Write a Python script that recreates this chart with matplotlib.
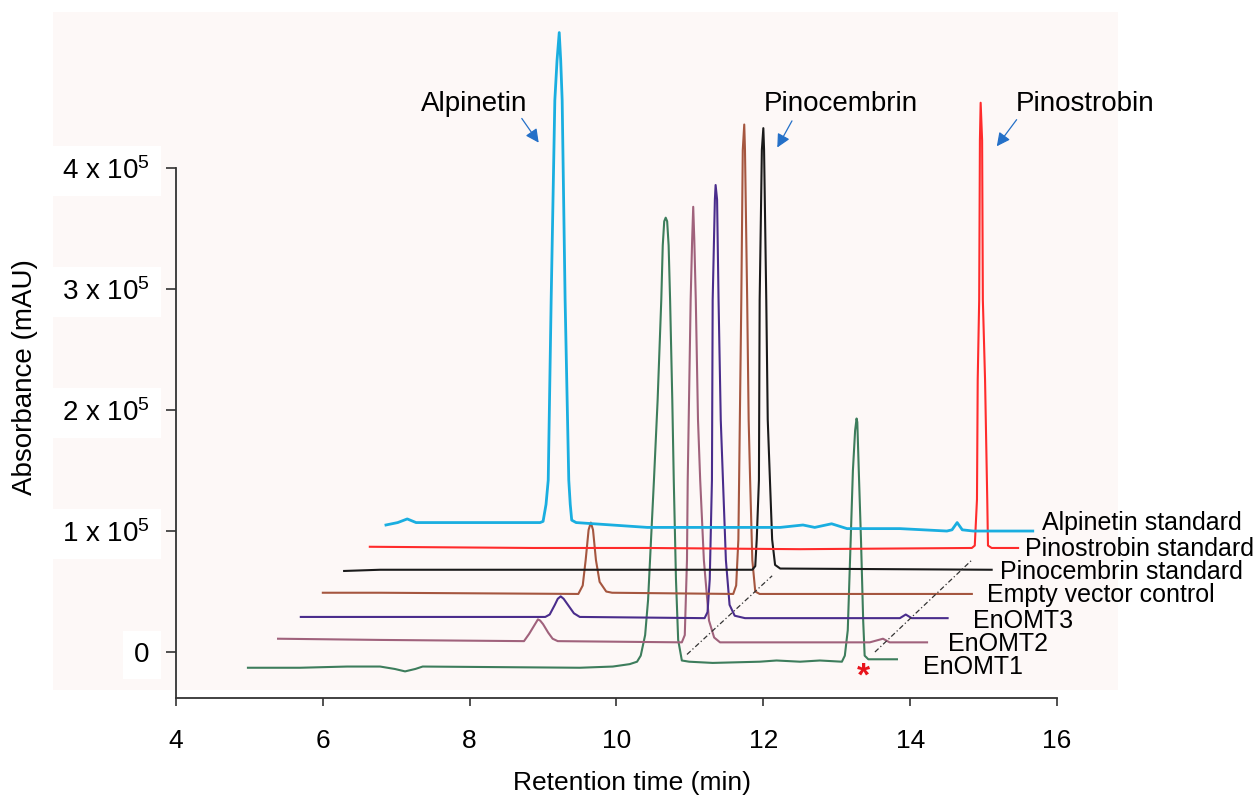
import matplotlib
matplotlib.use('Agg')
import matplotlib.pyplot as plt
from matplotlib.patches import Rectangle

plt.rcParams['font.family'] = ['Liberation Sans', 'DejaVu Sans']
plt.rcParams['mathtext.fontset'] = 'custom'
plt.rcParams['mathtext.rm'] = 'Liberation Sans'
plt.rcParams['mathtext.it'] = 'Liberation Sans'
plt.rcParams['mathtext.bf'] = 'Liberation Sans:bold'

# Chromatogram traces as drawn (stacked, offset), retention time (min) vs absorbance (x 10^5 mAU)
cyan_x = [6.86, 7.02, 7.15, 7.27, 7.60, 8.41, 8.96, 9.00, 9.04, 9.07, 9.11, 9.16, 9.19, 9.22, 9.24, 9.26, 9.30,
          9.35, 9.37, 9.39, 9.45, 10.42, 12.23, 12.54, 12.70, 12.93, 13.14, 13.86, 14.50, 14.57, 14.64, 14.71,
          14.86, 15.67]
cyan_y = [1.05, 1.07, 1.10, 1.07, 1.07, 1.07, 1.07, 1.08, 1.22, 1.42, 2.91, 4.56, 4.89, 5.12, 4.89, 4.56, 2.91,
          1.42, 1.22, 1.09, 1.07, 1.03, 1.03, 1.05, 1.03, 1.06, 1.02, 1.02, 1.00, 1.01, 1.07, 1.01,
          1.00, 1.00]

red_x = [6.64, 8.86, 10.42, 12.50, 14.84, 14.88, 14.91, 14.92, 14.94, 14.95, 14.96, 14.98, 14.99, 15.02, 15.05,
         15.06, 15.11, 15.47]
red_y = [0.87, 0.86, 0.86, 0.85, 0.86, 0.88, 1.26, 2.25, 2.91, 4.23, 4.54, 4.23, 2.91, 2.25, 1.26,
         0.88, 0.86, 0.86]

black_x = [6.29, 6.78, 11.85, 11.89, 11.91, 11.94, 11.95, 11.98, 12.00, 12.01, 12.04, 12.06, 12.09, 12.12,
           12.16, 12.23, 15.11]
black_y = [0.67, 0.68, 0.68, 0.71, 0.93, 1.42, 2.91, 4.15, 4.33, 4.15, 2.91, 1.92, 1.42, 0.93,
           0.72, 0.69, 0.68]

brown_x = [6.00, 6.78, 9.48, 9.54, 9.58, 9.62, 9.65, 9.68, 9.72, 9.77, 9.86, 9.94, 11.59, 11.63, 11.66, 11.67,
           11.70, 11.72, 11.74, 11.75, 11.78, 11.80, 11.82, 11.85, 11.89, 11.95, 14.84]
brown_y = [0.49, 0.49, 0.48, 0.55, 0.76, 1.01, 1.07, 1.01, 0.76, 0.58, 0.50, 0.49, 0.48, 0.55, 0.93, 1.42,
           2.91, 4.15, 4.36, 4.15, 2.91, 1.92, 1.42, 0.76, 0.50, 0.48, 0.48]

purple_x = [5.70, 6.78, 9.03, 9.09, 9.16, 9.20, 9.24, 9.28, 9.35, 9.42, 9.50, 11.20, 11.24, 11.27, 11.30, 11.31,
            11.34, 11.35, 11.37, 11.39, 11.42, 11.45, 11.49, 11.54, 11.61, 11.75, 13.86, 13.94, 14.02, 14.51]
purple_y = [0.29, 0.29, 0.29, 0.31, 0.39, 0.44, 0.46, 0.44, 0.38, 0.32, 0.29, 0.28, 0.33, 0.60, 1.42, 2.91,
            3.74, 3.86, 3.74, 2.91, 1.92, 1.42, 0.76, 0.39, 0.30, 0.28, 0.28, 0.31, 0.28, 0.28]

mauve_x = [5.39, 6.78, 8.74, 8.81, 8.88, 8.93, 8.96, 9.00, 9.07, 9.13, 9.20, 10.89, 10.93, 10.96, 10.97, 11.01,
           11.03, 11.045, 11.06, 11.08, 11.11, 11.14, 11.19, 11.26, 11.33, 11.41, 13.45, 13.63, 13.72, 14.23]
mauve_y = [0.11, 0.10, 0.09, 0.15, 0.22, 0.27, 0.26, 0.23, 0.16, 0.11, 0.09, 0.08, 0.14, 0.76, 1.42, 2.91,
           3.40, 3.68, 3.40, 2.91, 1.92, 1.42, 0.76, 0.26, 0.12, 0.08, 0.08, 0.11, 0.08, 0.08]

green_x = [4.98, 5.69, 6.33, 6.78, 6.98, 7.12, 7.26, 7.36, 9.50, 9.95, 10.18, 10.28, 10.33, 10.39, 10.43, 10.51,
           10.56, 10.61, 10.63, 10.65, 10.67, 10.69, 10.71, 10.73, 10.76, 10.78, 10.81, 10.84, 10.89, 10.99,
           11.31, 11.95, 12.18, 12.50, 12.77, 13.07, 13.11, 13.15, 13.19, 13.22, 13.25, 13.27, 13.28, 13.30,
           13.33, 13.36, 13.38, 13.43, 13.82]
green_y = [-0.13, -0.13, -0.12, -0.12, -0.14, -0.16, -0.14, -0.12, -0.13, -0.12, -0.10, -0.08, -0.03, 0.14,
           0.43, 1.42, 2.08, 2.91, 3.36, 3.56, 3.59, 3.56, 3.36, 2.91, 2.08, 1.42, 0.60, 0.10, -0.07, -0.08,
           -0.09, -0.08, -0.07, -0.08, -0.07, -0.08, -0.03, 0.18, 0.93, 1.50, 1.83, 1.93, 1.90, 1.50,
           0.93, 0.26, -0.03, -0.06, -0.06]

traces = [
    (green_x, green_y, '#3d7d5c', 1.5),
    (mauve_x, mauve_y, '#a0627c', 1.5),
    (purple_x, purple_y, '#4a2d8c', 1.5),
    (brown_x, brown_y, '#a5563f', 1.5),
    (black_x, black_y, '#1a1a1a', 1.5),
    (red_x, red_y, '#ff2b2b', 1.5),
    (cyan_x, cyan_y, '#1aaee0', 2.0),
]

# sample labels (text, x, y)
sample_names = ['Alpinetin standard', 'Pinostrobin standard', 'Pinocembrin standard', 'Empty vector control',
                'EnOMT3', 'EnOMT2', 'EnOMT1']
sample_x = [15.80, 15.57, 15.23, 15.05, 14.85, 14.51, 14.18]
sample_y = [1.07, 0.85, 0.66, 0.47, 0.26, 0.07, -0.12]

# peak names with arrow tail/tip
peak_names = ['Alpinetin', 'Pinocembrin', 'Pinostrobin']
peak_text_x = [8.06, 13.06, 16.38]
peak_text_y = [4.53, 4.53, 4.53]
arrow_tail = [(8.71, 4.41), (12.39, 4.39), (15.45, 4.40)]
arrow_tip = [(8.94, 4.21), (12.19, 4.17), (15.18, 4.18)]

# dash-dot guide lines
guide1_x, guide1_y = [10.96, 12.12], [-0.02, 0.63]
guide2_x, guide2_y = [13.52, 14.84], [0.00, 0.76]

yticks = [0, 1, 2, 3, 4]
ytick_labels = ['0', r'1 x 10$^5$', r'2 x 10$^5$', r'3 x 10$^5$', r'4 x 10$^5$']
xticks = [4, 6, 8, 10, 12, 14, 16]

fig = plt.figure(figsize=(12.56, 7.96), dpi=100)
fig.patch.set_facecolor('white')
fig.patches.append(Rectangle((53 / 1256, 1 - 690 / 796), (1118 - 53) / 1256, (690 - 12) / 796,
                             transform=fig.transFigure, facecolor='#fdf8f7', edgecolor='none', zorder=-5))

ax = fig.add_axes([176 / 1256, 1 - 698 / 796, 881 / 1256, 686 / 796])
ax.set_zorder(2)
ax.set_facecolor('none')
ax.set_xlim(4, 16)
ax.set_ylim(-0.38, 5.29)

for xs, ys, c, lw in traces:
    ax.plot(xs, ys, color=c, lw=lw, solid_joinstyle='round', clip_on=False)

ax.plot(guide1_x, guide1_y, color='#333333', lw=0.9, ls=(0, (4, 2, 1, 2)))
ax.plot(guide2_x, guide2_y, color='#333333', lw=0.9, ls=(0, (4, 2, 1, 2)))

for name, x, y in zip(sample_names, sample_x, sample_y):
    ax.text(x, y, name, fontsize=18, ha='left', va='center', color='black')

for name, x, y, tail, tip in zip(peak_names, peak_text_x, peak_text_y, arrow_tail, arrow_tip):
    ax.text(x, y, name, fontsize=20, ha='center', va='center', color='black')
    ax.annotate('', xy=tip, xytext=tail,
                arrowprops=dict(arrowstyle='-|>', color='#2470c8', lw=0.9, mutation_scale=20,
                                shrinkA=0, shrinkB=0))

ax.text(13.36, -0.21, '*', fontsize=24, color='#e8141c', ha='center', va='center', fontweight='bold')

for s in ['top', 'right']:
    ax.spines[s].set_visible(False)
for s in ['left', 'bottom']:
    ax.spines[s].set_color('#333333')
    ax.spines[s].set_linewidth(1.3)
ax.spines['left'].set_bounds(-0.38, 4)
ax.spines['bottom'].set_bounds(4, 16)

ax.set_xticks(xticks)
ax.set_xticklabels([str(t) for t in xticks])
ax.set_yticks(yticks)
ax.set_yticklabels(ytick_labels)
ax.tick_params(axis='x', direction='out', length=6, width=1.2, color='#333333', labelsize=19, pad=16)
ax.tick_params(axis='y', direction='out', length=7, width=1.2, color='#333333', labelsize=20, pad=12)
for lab in ax.get_yticklabels():
    lab.set_bbox(dict(facecolor='white', edgecolor='none', pad=8))

fig.text(25 / 1256, 1 - 377 / 796, 'Absorbance (mAU)', rotation=90, fontsize=20, ha='center', va='center')
fig.text(632 / 1256, 1 - 790 / 796, 'Retention time (min)', fontsize=19, ha='center', va='baseline')

fig.savefig('out.png', dpi=100)
